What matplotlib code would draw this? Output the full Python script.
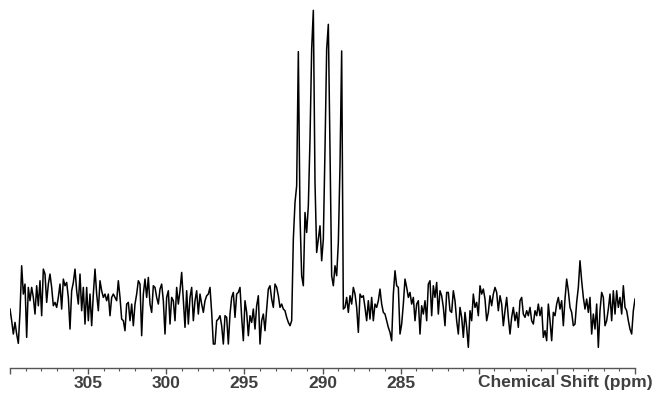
import numpy as np
import matplotlib
matplotlib.use("Agg")
import matplotlib.pyplot as plt

# ----------------------
# Spectrum data (arbitrary intensity units)
# ----------------------
PPM_START = 310.0
PPM_END = 270.0

noise_310_303 = [12.0, 8.5, 4.5, 8.0, 4.5, 1.7, 11.0, 25.0, 16.5, 19.5,
                 3.5, 18.5, 14.5, 18.5, 15.5, 10.5, 19.0, 13.0, 20.5, 10.0,
                 24.0, 22.5, 14.0, 19.5, 22.5, 18.5, 13.0, 14.0, 12.5, 15.5,
                 19.5, 12.0, 21.0, 19.0, 20.0, 15.5, 6.0, 17.5, 20.0, 24.0,
                 17.5, 13.5, 22.5, 11.5, 18.5, 7.5, 18.5, 8.5, 16.5, 7.0,
                 16.5, 24.0, 16.5, 11.5, 20.5, 17.5, 15.5, 16.5, 14.5, 16.5,
                 10.0, 15.5]

noise_303_296 = [16.5, 15.5, 14.5, 20.5, 15.5, 9.0, 8.5, 5.5, 13.5, 14.0,
                 8.5, 13.5, 7.0, 13.5, 16.5, 20.5, 19.5, 4.0, 16.5, 21.0,
                 15.5, 21.5, 13.5, 11.0, 19.0, 18.5, 15.5, 13.5, 18.0, 19.5,
                 14.5, 4.5, 15.5, 17.5, 7.5, 15.5, 14.5, 8.5, 18.5, 13.5,
                 17.5, 23.0, 14.5, 6.5, 17.5, 7.5, 15.5, 18.5, 8.5, 14.5,
                 17.5, 10.5, 16.5, 13.5, 11.0, 14.5, 16.0, 16.5, 18.5, 11.0,
                 1.5, 1.5, 8.5]

noise_296_292 = [9.0, 10.0, 7.0, 1.5, 10.0, 9.5, 1.5, 10.5, 15.5, 17.0,
                 9.5, 16.5, 17.0, 18.5, 9.5, 2.5, 14.5, 11.0, 4.0, 10.0,
                 8.0, 12.0, 6.0, 13.0, 16.0, 1.5, 8.5, 10.5, 5.5, 12.0,
                 18.0, 19.0, 15.0, 12.5, 19.5, 18.5, 16.0, 12.5, 13.5, 12.0,
                 11.5, 9.5, 8.0, 7.0, 8.5]

# quartet region
peaks_292_288 = [33.0, 44.0, 49.0, 89.3, 40.0, 22.0, 19.0, 41.0, 35.0, 43.0,
                 63.0, 90.0, 101.7, 50.0, 29.0, 33.0, 37.0, 26.5, 33.0, 60.0,
                 90.0, 97.5, 60.0, 22.0, 19.0, 25.0, 22.0, 32.0, 55.0, 89.5,
                 12.0]

noise_288_283 = [12.5, 15.5, 11.0, 16.0, 13.5, 18.5, 16.5, 12.5, 5.0, 16.5,
                 15.5, 16.0, 12.5, 8.5, 14.5, 9.0, 15.5, 8.5, 13.5, 12.5,
                 14.5, 18.0, 13.5, 11.0, 10.5, 8.5, 6.5, 5.0, 2.5, 16.5,
                 23.5, 19.0, 18.5, 4.5, 7.5, 13.5, 21.0, 18.5, 15.5, 17.0,
                 13.5, 15.5, 8.5, 13.5, 14.5, 4.5, 13.0, 10.5, 14.5, 8.5]

noise_283_276 = [19.5, 20.5, 10.0, 19.0, 15.5, 20.0, 10.5, 17.5, 16.0, 12.5,
                 7.0, 17.0, 17.0, 11.5, 11.0, 17.5, 14.5, 8.5, 4.5, 12.5,
                 9.5, 3.5, 11.0, 6.5, 0.5, 11.5, 8.5, 16.5, 12.5, 14.0,
                 10.0, 19.0, 16.5, 18.0, 15.0, 8.5, 11.0, 16.0, 13.0, 16.5,
                 18.5, 17.0, 11.5, 16.0, 13.5, 7.0, 11.5, 15.5, 9.5, 4.5,
                 9.5, 12.5, 8.5, 11.0, 6.5, 14.5, 15.5, 10.5, 9.5, 11.5,
                 10.0, 12.5, 8.5]

noise_276_270 = [7.5, 11.5, 10.0, 13.5, 10.0, 12.5, 3.5, 5.5, 2.5, 13.5,
                 8.5, 2.5, 11.0, 10.0, 13.5, 15.5, 12.0, 14.5, 7.0, 15.0,
                 21.0, 17.5, 12.5, 11.0, 7.0, 7.5, 14.0, 18.5, 26.5, 20.5,
                 15.5, 12.0, 15.0, 11.0, 15.5, 4.5, 10.5, 6.0, 13.5, 0.5,
                 11.5, 17.0, 15.5, 7.0, 8.5, 12.0, 16.5, 8.5, 17.5, 10.5,
                 17.5, 12.5, 15.5, 10.5, 19.0, 12.5, 11.5, 8.5, 6.0, 4.5,
                 11.5, 15.0]

major_ticks = [310, 305, 300, 295, 290, 285, 280, 275, 270]
tick_labels = ["", "305", "300", "295", "290", "285", "", "", ""]


def build_spectrum():
    intensity = np.concatenate([noise_310_303, noise_303_296, noise_296_292,
                                peaks_292_288, noise_288_283, noise_283_276,
                                noise_276_270])
    ppm = np.linspace(PPM_START, PPM_END, len(intensity))
    return ppm, intensity


def plot_spectrum(ppm, intensity):
    fig = plt.figure(figsize=(6.56, 3.95), dpi=100)
    ax = fig.add_axes([10 / 656, 27 / 395, 625 / 656, 363 / 395])

    ax.plot(ppm, intensity, color="black", lw=1.1)

    ax.set_xlim(PPM_START, PPM_END)
    ax.set_ylim(-5.7, 103.3)

    for side in ["top", "right", "left"]:
        ax.spines[side].set_visible(False)
    ax.spines["bottom"].set_color("#555555")
    ax.spines["bottom"].set_linewidth(1.0)

    ax.set_yticks([])
    ax.set_xticks(major_ticks)
    ax.set_xticklabels(tick_labels, fontfamily="Liberation Sans",
                       fontweight="bold", fontsize=12.5, color="#3f3f3f")
    ax.set_xticks(np.arange(270, 311, 1), minor=True)
    ax.tick_params(axis="x", which="major", direction="out", length=4,
                   width=1.0, color="#555555", pad=1.5)
    ax.tick_params(axis="x", which="minor", direction="out", length=2.5,
                   width=0.8, color="#555555")

    ax.set_xlabel("Chemical Shift (ppm)", fontfamily="Liberation Sans",
                  fontweight="bold", fontsize=12.5, color="#3f3f3f",
                  ha="right", va="center")
    ax.xaxis.set_label_coords(1.029, -0.04)

    fig.savefig("out.png", dpi=100)
    plt.close(fig)


def main():
    ppm, intensity = build_spectrum()
    plot_spectrum(ppm, intensity)


if __name__ == "__main__":
    main()
